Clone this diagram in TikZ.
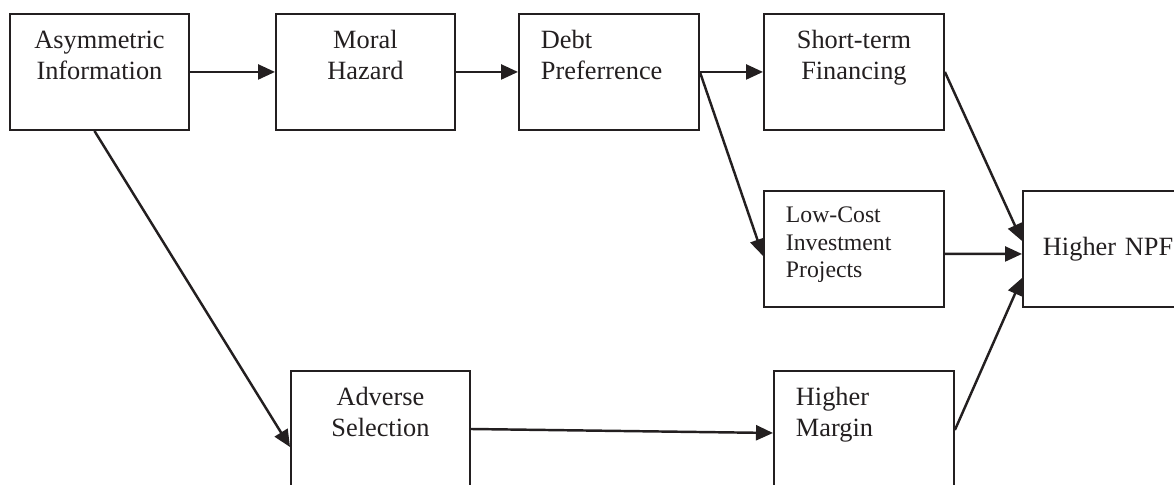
\documentclass[tikz,border=0pt]{standalone}
\usepackage{fontspec}
\setmainfont{Liberation Serif}
\usetikzlibrary{arrows.meta}

\definecolor{ink}{HTML}{231F20}

\tikzset{
  box/.style={draw=ink, text=ink, line width=1.1pt, inner sep=0pt, anchor=north west,
    text height=0.7cm, text depth=1.62cm, font=\fontsize{15}{17.6}\selectfont},
  midbox/.style={box, align=center, text width=3.58cm},
  leftbox/.style={box, align=left, inner xsep=0.44cm, text width=2.72cm},
  arr/.style={-{Triangle[length=0.34cm,width=0.3cm]}, draw=ink, fill=ink, line width=1.4pt}
}

\begin{document}
\begin{tikzpicture}[x=0.02cm, y=-0.02cm]
                %page size as the reference, in pixels
                \useasboundingbox (0,0) rectangle (1174,484);
                \clip (0,0) rectangle (1174,484);

                %top row
                \node[midbox] (asym) at (9,13) {Asymmetric\\Information};
                \node[midbox] (moral) at (275,13) {Moral\\Hazard};
                \node[leftbox] (debt) at (518,13) {Debt\\Preferrence};
                \node[midbox, text width=3.6cm] (short) at (763,13) {Short-term\\Financing};

                %middle row
                \node[leftbox, text height=0.64cm, text depth=1.68cm,
                      font=\fontsize{13.5}{15.6}\selectfont] (lowcost) at (763,190)
                      {Low-Cost\\Investment\\Projects};
                \node[leftbox, inner xsep=0.4cm, text width=2.8cm,
                      text height=1.3cm, text depth=1.02cm] (npf) at (1022,190) {Higher NPF};

                %bottom row, cut by the page edge
                \node[midbox, text depth=2.3cm] (adverse) at (290,370) {Adverse\\Selection};
                \node[leftbox, text depth=2.3cm] (margin) at (773,370) {Higher\\Margin};

                \draw[arr] (asym.east) -- (moral.west);
                \draw[arr] (moral.east) -- (debt.west);
                \draw[arr] (debt.east) -- (short.west);
                \draw[arr] (debt.east) -- ([yshift=-0.14cm]lowcost.west);
                \draw[arr] (short.east) -- ([yshift=0.16cm]npf.west);
                \draw[arr] ([yshift=-0.1cm]lowcost.east) -- ([yshift=-0.1cm]npf.west);
                \draw[arr] ([yshift=-1.2cm]margin.north east) -- ([yshift=-0.58cm]npf.west);
                \draw[arr] ([xshift=-0.1cm]asym.south) -- ([yshift=-1.54cm]adverse.north west);
                \draw[arr] ([yshift=-1.18cm]adverse.north east) -- ([yshift=-1.26cm]margin.north west);
\end{tikzpicture}
\end{document}
